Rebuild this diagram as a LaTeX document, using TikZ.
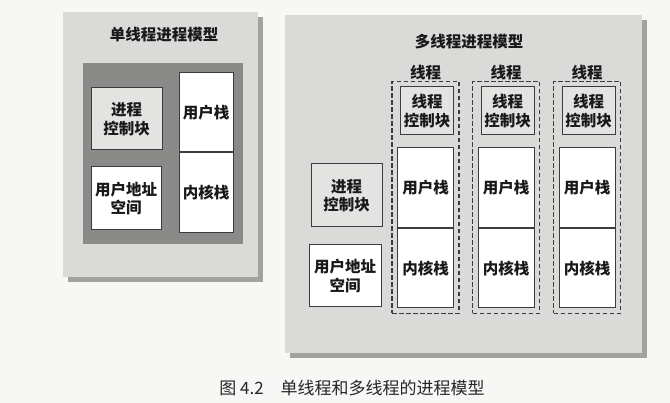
\documentclass[tikz,border=0pt]{standalone}
\usepackage{fontspec}
\newfontfamily\cjk{Noto Sans CJK SC}
\usetikzlibrary{fit, positioning, shadows, backgrounds}
\definecolor{pagewhite}{HTML}{F7F7F5}
\definecolor{panelgray}{HTML}{DADAD8}
\definecolor{shadowgray}{HTML}{A2A2A0}
\definecolor{coregray}{HTML}{8A8A88}
\definecolor{ctrlgray}{HTML}{E3E3E1}
\definecolor{linegray}{HTML}{3C3C3C}

\begin{document}
\begin{tikzpicture}[
    x=1pt, y=-1pt,
    panel/.style  = {fill=panelgray, inner sep=0pt,
                     drop shadow={shadow xshift=5pt, shadow yshift=-5pt,
                                  fill=shadowgray, opacity=1}},
    box/.style    = {draw=linegray, line width=1pt, inner sep=0pt, align=center,
                     font=\cjk\bfseries\fontsize{15.5}{18.5}\selectfont, text=black!90},
    ctrl/.style   = {box, fill=ctrlgray},
    stack/.style  = {box, fill=white},
    thread/.style = {draw=linegray, dash pattern=on 4.5pt off 2.5pt,
                     line width=1.3pt, inner sep=5pt},
    title/.style  = {font=\cjk\bfseries\fontsize{15.5}{18.5}\selectfont, text=black!90},
  ]

  \fill[pagewhite] (0,0) rectangle (670,403);
  \useasboundingbox (0,0) rectangle (670,403);

  %% Single-threaded process model
  \node[panel, minimum width=195pt, minimum height=265pt] (single) at (160.5,144.5) {};
  \node[title] (singletitle) at (164,35) {单线程进程模型};
  \node[fill=coregray, inner sep=0pt, minimum width=160pt, minimum height=181pt]
        (core) at (163,153.5) {};
  \node[ctrl, minimum width=71pt, minimum height=62pt] (pcbA) at (126.5,119) {进程\\控制块};
  \node[stack, minimum width=70pt, minimum height=63pt] (uasA) at (126,198.5) {用户地址\\空间};
  \node[stack, minimum width=54pt, minimum height=79pt] (ustackA) at (206,112.5) {用户栈};
  \node[stack, minimum width=54pt, minimum height=80pt, below=0pt of ustackA] (kstackA) {内核栈};

  %% Multi-threaded process model
  \node[panel, minimum width=357pt, minimum height=338pt] (multi) at (463.5,184) {};
  \node[title] (multititle) at (469,42) {多线程进程模型};
  \node[ctrl, minimum width=71pt, minimum height=63pt] (pcbB) at (346.5,195.5) {进程\\控制块};
  \node[stack, minimum width=72pt, minimum height=62pt] (uasB) at (345,276) {用户地址\\空间};

  %% Thread 1
  \node[ctrl, minimum width=53pt, minimum height=48pt] (tcbA) at (427,111) {线程\\控制块};
  \node[stack, minimum width=56pt, minimum height=80pt] (ustackB) at (425.5,188) {用户栈};
  \node[stack, minimum width=56pt, minimum height=79pt, below=0pt of ustackB] (kstackB) {内核栈};
  \node[thread, fit=(tcbA)(ustackB)(kstackB),
        label={[title, inner sep=1pt]above:线程}] (threadA) {};

  %% Thread 2
  \node[ctrl, minimum width=53pt, minimum height=48pt] (tcbB) at (507.5,111) {线程\\控制块};
  \node[stack, minimum width=56pt, minimum height=80pt] (ustackC) at (506,188) {用户栈};
  \node[stack, minimum width=56pt, minimum height=79pt, below=0pt of ustackC] (kstackC) {内核栈};
  \node[thread, fit=(tcbB)(ustackC)(kstackC),
        label={[title, inner sep=1pt]above:线程}] (threadB) {};

  %% Thread 3
  \node[ctrl, minimum width=53pt, minimum height=48pt] (tcbC) at (588.5,111) {线程\\控制块};
  \node[stack, minimum width=56pt, minimum height=80pt] (ustackD) at (587,188) {用户栈};
  \node[stack, minimum width=56pt, minimum height=79pt, below=0pt of ustackD] (kstackD) {内核栈};
  \node[thread, fit=(tcbC)(ustackD)(kstackD),
        label={[title, inner sep=1pt]above:线程}] (threadC) {};

  %% Caption
  \node[font=\cjk\fontsize{17}{20}\selectfont, text=black!85] (caption) at (352,388)
        {图 4.2\quad 单线程和多线程的进程模型};

\end{tikzpicture}
\end{document}
